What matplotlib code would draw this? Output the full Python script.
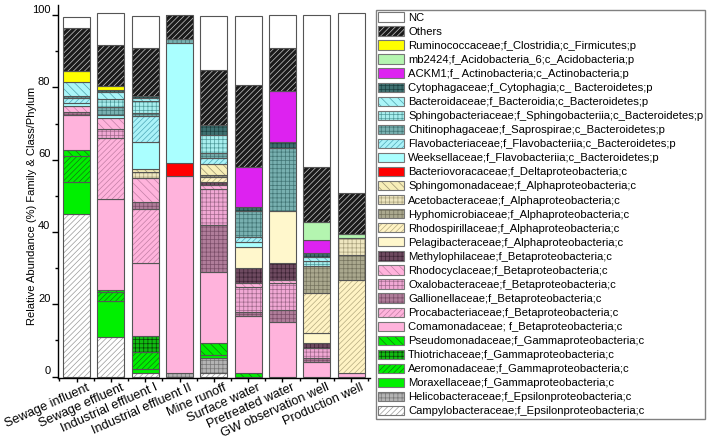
import matplotlib
matplotlib.use('Agg')
import matplotlib.pyplot as plt
import matplotlib.transforms as mtransforms
from matplotlib.patches import Patch
from matplotlib.legend_handler import HandlerTuple
import numpy as np

plt.rcParams['font.family'] = ['Liberation Sans', 'DejaVu Sans']
plt.rcParams['hatch.linewidth'] = 0.5

# ---------------- data ----------------
categories = ["Sewage influent", "Sewage effluent", "Industrial effluent I",
              "Industrial effluent II", "Mine runoff", "Surface water",
              "Pretreated water", "GW observation well", "Production well"]

campylo     = [45.0, 11.0, 0.9, 0.0, 1.0, 0.0, 0.0, 0.0, 0.0]
helico      = [0.0, 0.0, 0.0, 0.9, 4.0, 0.0, 0.0, 0.0, 0.0]
moraxella   = [8.9, 9.9, 1.1, 0.0, 0.9, 0.0, 0.0, 0.0, 0.0]
aeromona    = [7.2, 2.5, 4.8, 0.0, 0.0, 0.0, 0.0, 0.0, 0.0]
thiotrich   = [0.0, 0.0, 4.4, 0.0, 0.0, 0.0, 0.0, 0.0, 0.0]
pseudomona  = [1.6, 0.6, 0.0, 0.0, 3.3, 0.9, 0.0, 0.0, 0.0]
comamona    = [9.8, 25.2, 20.1, 54.5, 19.8, 15.8, 15.1, 3.9, 0.9]
procabac    = [0.0, 16.7, 15.1, 0.0, 0.0, 0.0, 0.0, 0.0, 0.0]
gallionell  = [0.8, 0.0, 1.9, 0.0, 12.9, 1.2, 3.3, 1.3, 0.0]
oxalobac    = [0.0, 2.5, 0.0, 0.0, 10.1, 6.9, 7.5, 2.7, 0.0]
rhodocycl   = [1.5, 3.0, 6.7, 0.0, 0.9, 1.1, 0.8, 0.0, 0.0]
methyloph   = [0.0, 0.0, 0.0, 0.0, 1.0, 4.0, 4.6, 1.4, 0.0]
pelagibac   = [0.0, 0.0, 0.0, 0.0, 0.0, 6.0, 14.5, 2.8, 0.0]
rhodospir   = [0.0, 0.0, 0.0, 0.0, 1.3, 0.0, 0.0, 11.1, 25.8]
hyphomicrob = [0.0, 0.0, 0.0, 0.0, 0.5, 0.0, 0.0, 7.4, 6.9]
acetobac    = [0.0, 0.0, 1.5, 0.0, 0.0, 0.0, 0.0, 0.0, 4.7]
sphingomona = [0.0, 0.0, 0.9, 0.0, 3.0, 0.0, 0.0, 0.0, 0.0]
bacteriovor = [0.0, 0.0, 0.0, 3.6, 0.0, 0.0, 0.0, 0.0, 0.0]
weeksell    = [0.8, 0.9, 7.5, 33.4, 0.0, 1.4, 0.0, 0.0, 0.0]
flavobac    = [1.4, 0.0, 7.1, 0.0, 1.9, 1.3, 0.0, 0.0, 0.0]
chitino     = [0.6, 2.3, 0.9, 1.1, 1.2, 7.2, 17.3, 0.0, 0.0]
sphingobac  = [0.0, 2.3, 3.3, 0.0, 5.0, 0.0, 0.0, 1.4, 0.0]
bacteroid   = [3.8, 1.9, 0.8, 0.0, 0.0, 0.0, 0.0, 1.1, 0.0]
cytophag    = [0.0, 0.6, 0.6, 0.0, 2.8, 1.1, 1.8, 1.0, 0.0]
ackm1       = [0.0, 0.0, 0.0, 0.0, 0.0, 11.0, 14.0, 3.8, 0.0]
mb2424      = [0.0, 0.0, 0.0, 0.0, 0.0, 0.0, 0.0, 4.9, 1.1]
rumino      = [3.1, 0.9, 0.0, 0.0, 0.0, 0.0, 0.0, 0.0, 0.0]
others      = [12.0, 11.5, 13.2, 6.6, 15.2, 22.7, 12.0, 15.2, 11.3]
nc          = [3.1, 8.7, 9.0, 0.0, 14.9, 19.1, 9.1, 42.0, 49.9]

# stacking order: bottom -> top
series_values = [campylo, helico, moraxella, aeromona, thiotrich, pseudomona,
                 comamona, procabac, gallionell, oxalobac, rhodocycl, methyloph,
                 pelagibac, rhodospir, hyphomicrob, acetobac, sphingomona,
                 bacteriovor, weeksell, flavobac, chitino, sphingobac, bacteroid,
                 cytophag, ackm1, mb2424, rumino, others, nc]

series_labels = [
    "Campylobacteraceae;f_Epsilonproteobacteria;c",
    "Helicobacteraceae;f_Epsilonproteobacteria;c",
    "Moraxellaceae;f_Gammaproteobacteria;c",
    "Aeromonadaceae;f_Gammaproteobacteria;c",
    "Thiotrichaceae;f_Gammaproteobacteria;c",
    "Pseudomonadaceae;f_Gammaproteobacteria;c",
    "Comamonadaceae; f_Betaproteobacteria;c",
    "Procabacteriaceae;f_Betaproteobacteria;c",
    "Gallionellaceae;f_Betaproteobacteria;c",
    "Oxalobacteraceae;f_Betaproteobacteria;c",
    "Rhodocyclaceae;f_Betaproteobacteria;c",
    "Methylophilaceae;f_Betaproteobacteria;c",
    "Pelagibacteraceae;f_Alphaproteobacteria;c",
    "Rhodospirillaceae;f_Alphaproteobacteria;c",
    "Hyphomicrobiaceae;f_Alphaproteobacteria;c",
    "Acetobacteraceae;f_Alphaproteobacteria;c",
    "Sphingomonadaceae;f_Alphaproteobacteria;c",
    "Bacteriovoracaceae;f_Deltaproteobacteria;c",
    "Weeksellaceae;f_Flavobacteriia;c_Bacteroidetes;p",
    "Flavobacteriaceae;f_Flavobacteriia;c_Bacteroidetes;p",
    "Chitinophagaceae;f_Saprospirae;c_Bacteroidetes;p",
    "Sphingobacteriaceae;f_Sphingobacteriia;c_Bacteroidetes;p",
    "Bacteroidaceae;f_Bacteroidia;c_Bacteroidetes;p",
    "Cytophagaceae;f_Cytophagia;c_ Bacteroidetes;p",
    "ACKM1;f_ Actinobacteria;c_Actinobacteria;p",
    "mb2424;f_Acidobacteria_6;c_Acidobacteria;p",
    "Ruminococcaceae;f_Clostridia;c_Firmicutes;p",
    "Others",
    "NC",
]

# ---------------- styles (face, hatch, hatch colour) ----------------
styles = [
    ('#ffffff', '//////', '#999999'),   # Campylo
    ('#b4b4b4', '++++', '#777777'),     # Helico
    ('#00f000', None, None),            # Moraxella
    ('#00ee00', '//////', '#117711'),   # Aeromona
    ('#11bb11', '++++', '#064406'),     # Thiotrich
    ('#00ee00', '\\\\\\\\', '#117711'), # Pseudomona
    ('#ffb3dc', None, None),            # Comamona
    ('#ffb3dc', '//////', '#c27fa5'),   # Procabac
    ('#b07d9a', '++++', '#7a4d68'),     # Gallionell
    ('#f0a8d4', '++++', '#a06a8c'),     # Oxalobac
    ('#ffb3dc', '\\\\\\\\', '#c27fa5'), # Rhodocycl
    ('#6e4a60', '++++', '#3c2334'),     # Methyloph
    ('#fff7cc', None, None),            # Pelagibac
    ('#fff3c4', '//////', '#b5aa80'),   # Rhodospir
    ('#aaa88e', '++++', '#75735e'),     # Hyphomicrob
    ('#eee6c0', '++++', '#aaa27e'),     # Acetobac
    ('#f7eeb8', '\\\\\\\\', '#9b9270'), # Sphingomona
    ('#ff0000', None, None),            # Bacteriovor
    ('#aaffff', None, None),            # Weeksell
    ('#aaf2f8', '//////', '#4fa8b8'),   # Flavobac
    ('#78b0b0', '++++', '#427575'),     # Chitino
    ('#a8eeee', '++++', '#4f9a9a'),     # Sphingobac
    ('#aaf5f8', '\\\\\\\\', '#4fa3ad'), # Bacteroid
    ('#3e7070', '++++', '#1c4040'),     # Cytophag
    ('#dd22f0', None, None),            # ACKM1
    ('#b4f5b0', None, None),            # mb2424
    ('#ffff00', None, None),            # Rumino
    ('#1a1a1a', '//////', '#c8c8c8'),   # Others
    ('#ffffff', None, None),            # NC
]

EDGE = '#555555'

fig = plt.figure(figsize=(7.09, 4.41), dpi=100)
ax = fig.add_axes([58/709, 63/441, 312/709, 373/441])

x = np.arange(len(categories))
width = 0.79
bottom = np.zeros(len(categories))
handles = []
for vals, lab, (fc, h, hc) in zip(series_values, series_labels, styles):
    v = np.array(vals, dtype=float)
    m = v > 0
    if m.any():
        ax.bar(x[m], v[m], width, bottom=bottom[m], color=fc,
               edgecolor=hc if hc else fc, hatch=h, linewidth=0)
        ax.bar(x[m], v[m], width, bottom=bottom[m], fill=False,
               edgecolor=EDGE, linewidth=0.8)
    bottom += v
    p1 = Patch(facecolor=fc, edgecolor=hc if hc else fc, hatch=h, linewidth=0)
    p2 = Patch(fill=False, edgecolor='#777777', linewidth=0.8)
    handles.append(((p1, p2), lab))

ax.set_xlim(-0.54, 8.55)
ax.set_ylim(-0.4, 102.8)
ax.spines['top'].set_visible(False)
ax.spines['right'].set_visible(False)
ax.spines['left'].set_linewidth(1.0)
ax.spines['bottom'].set_linewidth(1.0)

ax.set_yticks([0, 20, 40, 60, 80, 100])
ax.set_yticks([10, 30, 50, 70, 90], minor=True)
ax.tick_params(axis='y', which='major', length=4, width=1, labelsize=8, pad=1.5)
ax.tick_params(axis='y', which='minor', length=2.5, width=1)
shift = mtransforms.ScaledTranslation(0, 0.065, fig.dpi_scale_trans)
for lbl in ax.get_yticklabels():
    lbl.set_transform(lbl.get_transform() + shift)

ax.set_xticks(x)
ax.set_xticks(np.arange(-0.5, 9, 1.0), minor=True)
ax.set_xticklabels(categories, fontsize=9.2)
ax.tick_params(axis='x', which='major', length=3, width=1, pad=3.6)
ax.tick_params(axis='x', which='minor', length=2, width=1)
xshift = mtransforms.ScaledTranslation(0.12, 0, fig.dpi_scale_trans)
for lbl in ax.get_xticklabels():
    lbl.set_rotation(24)
    lbl.set_ha('right')
    lbl.set_va('center')
    lbl.set_rotation_mode('anchor')
    lbl.set_transform(lbl.get_transform() + xshift)

fig.text(32/709, 1 - 206/441, "Relative Abundance (%) Family & Class/Phylum",
         rotation=90, ha='center', va='center', fontsize=8.0)

handles = handles[::-1]
leg = fig.legend([h for h, _ in handles], [l for _, l in handles],
                 handler_map={tuple: HandlerTuple(ndivide=1, pad=0)},
                 loc='upper left', bbox_to_anchor=(376/709, 1 - 10/441),
                 fontsize=8.1, handlelength=2.3, handleheight=0.89,
                 handletextpad=0.35, labelspacing=0.315, borderpad=0.2,
                 borderaxespad=0, fancybox=False, framealpha=1,
                 edgecolor='#808080')
leg.get_frame().set_linewidth(1.0)

fig.savefig('out.png', dpi=100)
